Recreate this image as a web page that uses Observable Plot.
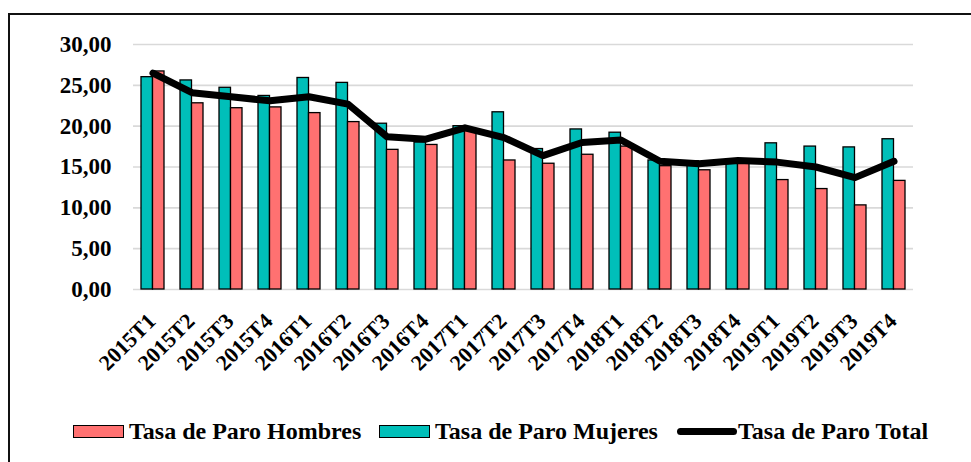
<!DOCTYPE html>
<html>
<head>
<meta charset="utf-8">
<script src="https://cdn.jsdelivr.net/npm/d3@7"></script>
<script src="https://cdn.jsdelivr.net/npm/@observablehq/plot@0.6"></script>
<style>
  body { margin: 0; background: #fff; width: 971px; height: 462px; overflow: hidden; position: relative; font-family: 'Liberation Serif', serif; }
  #frame { position: absolute; left: 8px; top: 13px; width: 970px; height: 460px; border-top: 2px solid #111; border-left: 2px solid #111; }
  #chart { position: absolute; left: 0; top: 0; }
  .item { position: absolute; top: 418px; display: flex; align-items: center; font-family: 'Liberation Serif', serif; font-weight: bold; font-size: 24px; color: #000; white-space: nowrap; }
  .sw { width: 49px; height: 11px; border: 1.5px solid #000; margin-right: 5px; }
  .ln { width: 60px; height: 7px; background: #000; border-radius: 4px; margin-right: 1px; }
</style>
</head>
<body>
<div id="frame"></div>
<div id="chart"></div>
<div class="item" style="left:73px"><div class="sw" style="background:#FF7171"></div><span>Tasa de Paro Hombres</span></div>
<div class="item" style="left:379px"><div class="sw" style="background:#00BFB9"></div><span>Tasa de Paro Mujeres</span></div>
<div class="item" style="left:677px"><div class="ln"></div><span>Tasa de Paro Total</span></div>
<script>
const categories = ["2015T1","2015T2","2015T3","2015T4","2016T1","2016T2","2016T3","2016T4","2017T1","2017T2","2017T3","2017T4","2018T1","2018T2","2018T3","2018T4","2019T1","2019T2","2019T3","2019T4"];
const mujeres = [26.0, 25.6, 24.7, 23.7, 25.9, 25.3, 20.3, 18.0, 20.0, 21.7, 17.2, 19.6, 19.2, 15.8, 15.7, 15.9, 17.9, 17.5, 17.4, 18.4];
const hombres = [26.7, 22.8, 22.2, 22.3, 21.6, 20.5, 17.1, 17.7, 19.4, 15.8, 15.4, 16.5, 17.5, 15.1, 14.6, 15.6, 13.4, 12.3, 10.3, 13.3];
const total = [26.5, 24.1, 23.6, 23.1, 23.6, 22.7, 18.7, 18.4, 19.8, 18.6, 16.4, 18.0, 18.3, 15.7, 15.4, 15.8, 15.6, 15.0, 13.7, 15.7];
const yTicks = [0, 5, 10, 15, 20, 25, 30];

const data = categories.map((c, i) => ({cat: c, m: mujeres[i], h: hombres[i], t: total[i]}));
const fmt = d => d.toFixed(2).replace(".", ",");
const font = "'Liberation Serif', serif";

const chart = Plot.plot({
  width: 971,
  height: 400,
  marginTop: 44,
  marginBottom: 111,
  marginLeft: 133,
  marginRight: 58,
  style: {fontFamily: font, fontWeight: "bold", color: "#000", background: "transparent"},
  x: {type: "band", domain: categories, padding: 0},
  y: {domain: [0, 30]},
  marks: [
    Plot.gridY(yTicks, {stroke: "#d9d9d9", strokeOpacity: 1, strokeWidth: 1.6}),
    Plot.barY(data, {x: "cat", y: "m", fill: "#00BFB9", stroke: "#000", strokeWidth: 1.3, insetLeft: 8, insetRight: 19.5}),
    Plot.barY(data, {x: "cat", y: "h", fill: "#FF7171", stroke: "#000", strokeWidth: 1.3, insetLeft: 19.5, insetRight: 8}),
    Plot.line(data, {x: "cat", y: "t", stroke: "#000", strokeWidth: 7, strokeLinejoin: "round", strokeLinecap: "round"}),
    Plot.axisY({ticks: yTicks, tickFormat: fmt, tickSize: 0, tickPadding: 22, fontSize: 23, fontWeight: "bold", fontFamily: font}),
    Plot.axisX({tickRotate: -45, tickSize: 0, tickPadding: 28, dx: -1, fontSize: 22, fontWeight: "bold", fontFamily: font, label: null})
  ]
});
document.getElementById("chart").appendChild(chart);
</script>
</body>
</html>
